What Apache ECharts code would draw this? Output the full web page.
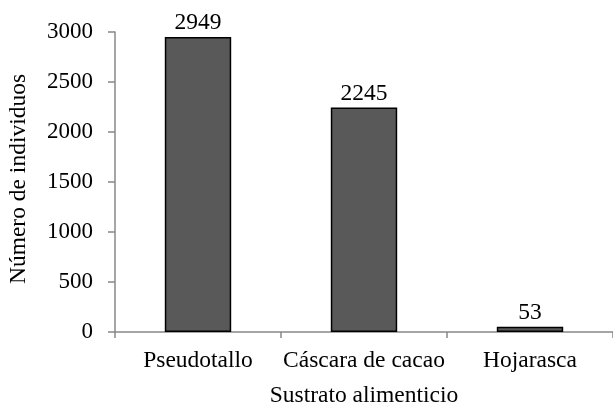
<!DOCTYPE html>
<html>
<head>
<meta charset="utf-8">
<script src="https://cdn.jsdelivr.net/npm/echarts@6/dist/echarts.min.js"></script>
<style>
html, body { margin: 0; padding: 0; background: #fff; }
#chart { width: 613px; height: 408px; }
</style>
</head>
<body>
<div id="chart"></div>
<script>
// datos del gráfico
const categories = ['Pseudotallo', 'Cáscara de cacao', 'Hojarasca']
const values = [2949, 2245, 53]
const yTicks = [0, 500, 1000, 1500, 2000, 2500, 3000]

const font = '"Liberation Serif", "Times New Roman", serif'
const fs = 23.5
const chart = echarts.init(document.getElementById('chart'), null, { renderer: 'canvas' })

const option = {
    animation: false,
    textStyle: { fontFamily: font },
    grid: { left: 115, right: 0, top: 32, bottom: 76, containLabel: false, outerBoundsMode: 'none' },
    xAxis: {
        type: 'category',
        data: categories,
        name: 'Sustrato alimenticio',
        nameLocation: 'middle',
        nameGap: 52,
        nameTextStyle: { color: '#000', fontSize: fs, fontFamily: font },
        axisLine: { lineStyle: { color: '#888', width: 1.5 } },
        axisTick: { show: true, alignWithLabel: false, length: 6, lineStyle: { color: '#888', width: 1.5 } },
        axisLabel: { color: '#000', fontSize: fs, fontFamily: font, margin: 17, interval: 0, hideOverlap: false }
    },
    yAxis: {
        type: 'value',
        min: yTicks[0],
        max: yTicks[yTicks.length - 1],
        interval: 500,
        name: 'Número de individuos',
        nameLocation: 'middle',
        nameGap: 84,
        nameTextStyle: { color: '#000', fontSize: fs, fontFamily: font, padding: [0, 0, 0, 6] },
        axisLine: { show: true, lineStyle: { color: '#888', width: 1.5 } },
        axisTick: { show: true, length: 7, lineStyle: { color: '#888', width: 1.5 } },
        splitLine: { show: false },
        axisLabel: { color: '#000', fontSize: 23, fontFamily: font, margin: 22, formatter: v => String(v) }
    },
    series: [{
        type: 'bar',
        data: values,
        barWidth: '40%',
        itemStyle: { color: '#595959', borderColor: '#000', borderWidth: 1.5 },
        label: {
            show: true,
            position: 'top',
            distance: 2,
            color: '#000',
            fontSize: fs,
            fontFamily: font
        }
    }]
}
chart.setOption(option)
</script>
</body>
</html>
